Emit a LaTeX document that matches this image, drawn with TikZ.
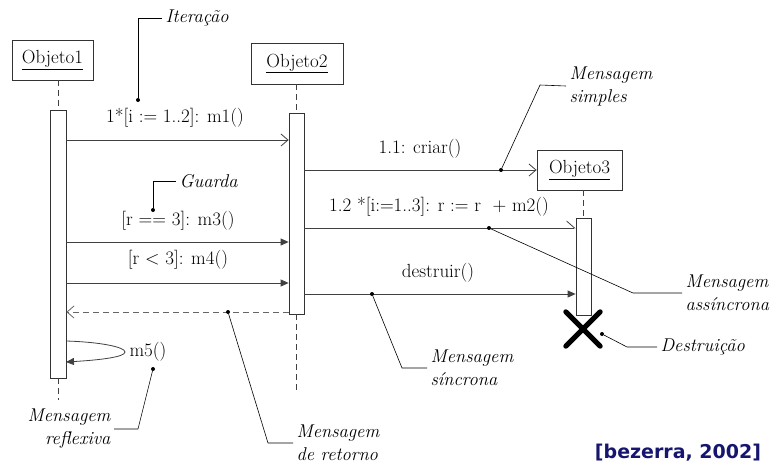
\documentclass[tikz,border=0pt]{standalone}
\usepackage{fontspec}
\usetikzlibrary{arrows.meta}
\newfontfamily\bzfont{DejaVu Sans}
\definecolor{bzblue}{RGB}{22,22,110}
\begin{document}
\begin{tikzpicture}[x=1pt,y=-1pt,
  every node/.style={font=\fontsize{19}{23}\selectfont},
  obj/.style={draw=black!80,line width=0.8pt,minimum height=40pt,inner sep=2pt},
  act/.style={draw=black!80,line width=0.8pt,fill=white,inner sep=0pt},
  life/.style={draw=black!75,line width=0.8pt,dash pattern=on 6pt off 4pt},
  msg/.style={draw=black!75,line width=0.8pt},
  openhead/.style={-{Straight Barb[length=7pt,width=12pt]}},
  fillhead/.style={-{Triangle[length=8pt,width=7pt]}},
  halfhead/.style={-{Straight Barb[harpoon,length=8pt,width=14pt]}},
  ret/.style={draw=black!60,line width=0.8pt,dash pattern=on 6pt off 4pt},
  note/.style={font=\fontsize{18.5}{23}\selectfont\itshape},
  leader/.style={draw=black,line width=0.6pt},
  dot/.style={circle,fill=black,inner sep=0pt,minimum size=4pt}]
\useasboundingbox[fill=white] (0,0) rectangle (777,469);

% objects
\node[obj,minimum width=81pt] (o1) at (52.5,60) {\underline{Objeto1}};
\node[obj,minimum width=92pt,minimum height=41pt] (o2) at (297,63.5) {\underline{Objeto2}};
\node[obj,minimum width=85pt] (o3) at (579.5,170) {\underline{Objeto3}};

% activation bars
\node[act,minimum width=16pt,minimum height=268pt] (a1) at (58,244) {};
\node[act,minimum width=15pt,minimum height=201pt] (a2) at (296.5,213.5) {};
\node[act,minimum width=15pt,minimum height=97pt] (a3) at (583.5,266.5) {};

% lifelines
\coordinate (e1) at (58,400);
\coordinate (e2) at (296.5,392);
\draw[life] (o1.south -| a1.north) -- (a1.north);
\draw[life] (a1.south) -- (e1);
\draw[life] (o2.south -| a2.north) -- (a2.north);
\draw[life] (a2.south) -- (e2);
\draw[life] (o3.south -| a3.north) -- (a3.north);

% message y levels
\coordinate (y1) at (0,140);
\coordinate (y2) at (0,170);
\coordinate (y3) at (0,228);
\coordinate (y4) at (0,242);
\coordinate (y5) at (0,283);
\coordinate (y6) at (0,294);
\coordinate (y7) at (0,312);

% messages
\draw[msg,openhead] (a1.east |- y1) -- (a2.west |- y1);
\node (m1) at (175,118) {1*[i := 1..2]: m1()};
\draw[msg,openhead] (a2.east |- y2) -- (o3.west |- y2);
\node (m11) at (420,149) {1.1: criar()};
\draw[msg,halfhead] (a2.east |- y3) -- (a3.west |- y3);
\node (m12) at (439,207) {1.2 *[i:=1..3]: r := r~ + m2()};
\draw[msg,fillhead] (a1.east |- y4) -- (a2.west |- y4);
\node (m3) at (178,221) {[r == 3]: m3()};
\draw[msg,fillhead] (a1.east |- y5) -- (a2.west |- y5);
\node (m4) at (178,260) {[r < 3]: m4()};
\draw[msg,fillhead] (a2.east |- y6) -- (a3.west |- y6);
\node (md) at (438,273) {destruir()};
\draw[ret,openhead] (a2.west |- y7) -- (a1.east |- y7);

% reflexive message
\coordinate (s1) at (66,341);
\coordinate (s2) at (125,352);
\coordinate (s3) at (66,362);
\draw[msg,fillhead] (s1) .. controls (100,342) and (125,347) .. (s2)
   .. controls (125,357) and (100,360) .. (s3);
\node[anchor=west] (m5) at (126,352) {m5()};

% destruction
\node[minimum size=34pt,inner sep=0pt] (xx) at (583,329) {};
\draw[line width=5pt,line cap=round] (xx.north west) -- (xx.south east);
\draw[line width=5pt,line cap=round] (xx.north east) -- (xx.south west);

% annotations
\node[dot] (d1) at (138,100) {};
\coordinate (k1) at (138,18);
\node[note,anchor=west] (n1) at (162,18) {Iteração};
\draw[leader] (d1) -- (k1) -- (n1.west);

\node[dot] (d2) at (153,210) {};
\coordinate (k2) at (153,181);
\node[note,anchor=west] (n2) at (176,181) {Guarda};
\draw[leader] (d2) -- (k2) -- (n2.west);

\node[dot] (d3) at (501,170) {};
\coordinate (k3) at (540,85);
\node[note,anchor=west,align=left] (n3) at (566,86) {Mensagem\\simples};
\draw[leader] (d3) -- (k3) -- (n3.west);

\node[dot] (d4) at (489,228) {};
\coordinate (k4) at (633,293);
\node[note,anchor=west,align=left] (n4) at (682,293) {Mensagem\\assíncrona};
\draw[leader] (d4) -- (k4) -- (n4.west);

\node[dot] (d5) at (372,294) {};
\coordinate (k5) at (402,368);
\node[note,anchor=west,align=left] (n5) at (427,368) {Mensagem\\síncrona};
\draw[leader] (d5) -- (k5) -- (n5.west);

\node[dot] (d6) at (602,334) {};
\coordinate (k6) at (627,347);
\node[note,anchor=west] (n6) at (657,347) {Destruição};
\draw[leader] (d6) -- (k6) -- (n6.west);

\node[dot] (d7) at (228,312) {};
\coordinate (k7) at (268,443);
\node[note,anchor=west,align=left] (n7) at (293,443) {Mensagem\\de retorno};
\draw[leader] (d7) -- (k7) -- (n7.west);

\node[dot] (d8) at (153,369) {};
\coordinate (k8) at (138,429);
\node[note,anchor=east,align=right] (n8) at (114,429) {Mensagem\\reflexiva};
\draw[leader] (d8) -- (k8) -- (n8.east);

\node[text=bzblue,font=\bzfont\bfseries\fontsize{19}{21}\selectfont] (bz) at (678,453) {[bezerra, 2002]};
\end{tikzpicture}
\end{document}
